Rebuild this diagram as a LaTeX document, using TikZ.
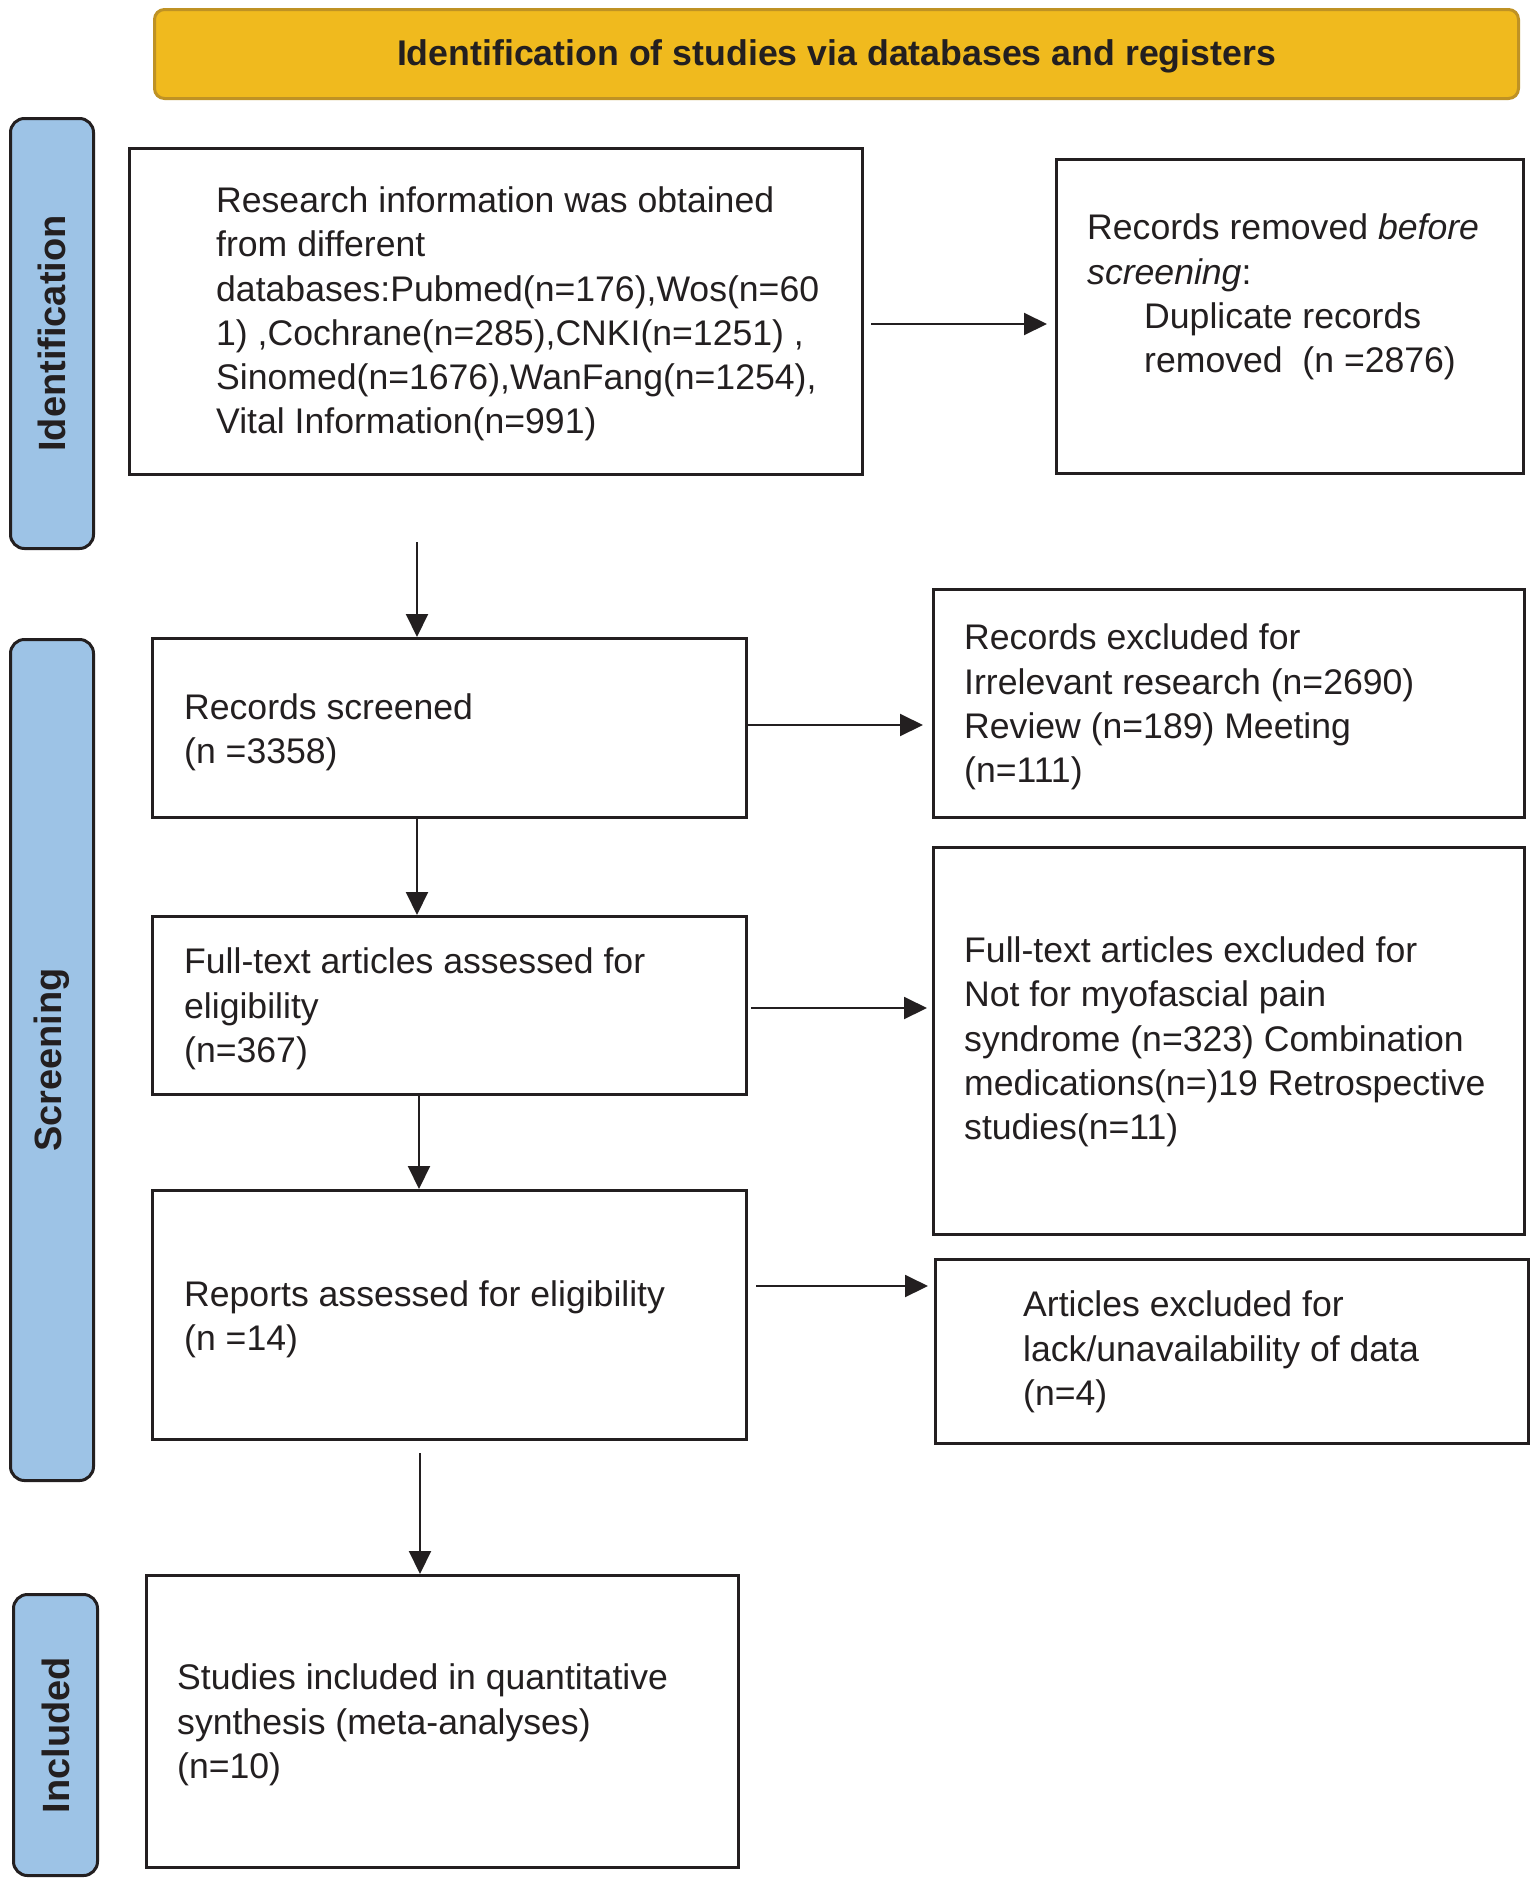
\documentclass[tikz,border=0pt]{standalone}
\usepackage{fontspec}
\setmainfont{Liberation Sans}
\usetikzlibrary{arrows.meta,calc}
\definecolor{bannerfill}{HTML}{F0BA1E}
\definecolor{bannerline}{HTML}{BF9224}
\definecolor{phasefill}{HTML}{9DC3E6}
\definecolor{ink}{HTML}{231F20}
\begin{document}
\begin{tikzpicture}[x=1pt,y=-1pt,
  box/.style={draw=ink, line width=3pt, fill=white, inner sep=0pt, anchor=north west},
  txt/.style={inner sep=0pt, align=left, anchor=west, text=ink, font=\fontsize{35.6}{44.3}\selectfont},
  phasebox/.style={draw=ink, line width=3pt, fill=phasefill, rounded corners=14pt, inner sep=0pt, anchor=north west},
  phasetxt/.style={rotate=90, inner sep=0pt, text=ink, font=\fontsize{38}{44}\selectfont\bfseries},
  arr/.style={draw=ink, line width=2pt, -{Triangle[length=23pt,width=22pt]}},
]
\useasboundingbox[fill=white] (0,0) rectangle (1535,1882);

% banner
\node[draw=bannerline, line width=3pt, fill=bannerfill, rounded corners=10pt, inner sep=0pt,
      anchor=north west, minimum width=1364pt, minimum height=89pt] (banner) at (153,8) {};
\node[inner sep=0pt, text=ink, font=\fontsize{35.7}{44}\selectfont\bfseries] (bannertxt) at ([yshift=-2.5pt]banner.center)
  {Identification of studies via databases and registers};

% phase labels
\node[phasebox, minimum width=83pt, minimum height=430pt] (pid) at (9,117) {};
\node[phasetxt] (pidt) at (pid.center) {Identification};
\node[phasebox, minimum width=83pt, minimum height=841pt] (psc) at (9,638) {};
\node[phasetxt] (psct) at (psc.center) {Screening};
\node[phasebox, minimum width=84pt, minimum height=281pt] (pin) at (12,1593) {};
\node[phasetxt] (pint) at (pin.center) {Included};

% boxes
\node[box, minimum width=733pt, minimum height=326pt] (res) at (128,147) {};
\node[txt] (rest) at (216,314) {Research information was obtained\\from different\\databases:Pubmed(n=176),Wos(n=60\\1) ,Cochrane(n=285),CNKI(n=1251) ,\\Sinomed(n=1676),WanFang(n=1254),\\Vital Information(n=991)};

\node[box, minimum width=467pt, minimum height=314pt] (rem) at (1055,158) {};
\node[txt] (remt) at (1087,297) {Records removed \textit{before}\\\textit{screening}:\\\hspace*{57pt}Duplicate records\\\hspace*{57pt}removed\ \ (n =2876)};

\node[box, minimum width=594pt, minimum height=179pt] (scr) at (151,637) {};
\node[txt] (scrt) at (184,732) {Records screened\\(n =3358)};

\node[box, minimum width=591pt, minimum height=228pt] (ex1) at (932,588) {};
\node[txt] (ex1t) at (964,707) {Records excluded for\\Irrelevant research (n=2690)\\Review (n=189) Meeting\\(n=111)};

\node[box, minimum width=594pt, minimum height=178pt] (ft) at (151,915) {};
\node[txt] (ftt) at (184,1009) {Full-text articles assessed for\\eligibility\\(n=367)};

\node[box, minimum width=591pt, minimum height=387pt] (ex2) at (932,846) {};
\node[txt] (ex2t) at (964,1042) {Full-text articles excluded for\\Not for myofascial pain\\syndrome (n=323) Combination\\medications(n=)19 Retrospective\\studies(n=11)};

\node[box, minimum width=594pt, minimum height=249pt] (rep) at (151,1189) {};
\node[txt] (rept) at (184,1319) {Reports assessed for eligibility\\(n =14)};

\node[box, minimum width=593pt, minimum height=184pt] (ex3) at (934,1258) {};
\node[txt] (ex3t) at (1023,1352) {Articles excluded for\\lack/unavailability of data\\(n=4)};

\node[box, minimum width=592pt, minimum height=292pt] (inc) at (145,1574) {};
\node[txt] (inct) at (177,1725) {Studies included in quantitative\\synthesis (meta-analyses)\\(n=10)};

% connector coordinates
\coordinate (a1s) at (417,542);
\coordinate (a3x) at (419,0);
\coordinate (a4s) at (420,1453);
\coordinate (h1s) at (871,324);
\coordinate (h2) at (0,725);
\coordinate (h3) at (0,1008);
\coordinate (h4) at (0,1286);

% vertical arrows
\draw[arr] (a1s) -- (a1s |- scr.north);
\draw[arr] (scr.south -| a1s) -- (ft.north -| a1s);
\draw[arr] (ft.south -| a3x) -- (rep.north -| a3x);
\draw[arr] (a4s) -- (a4s |- inc.north);

% horizontal arrows
\draw[arr, shorten >=8pt] (h1s) -- (h1s -| rem.west);
\draw[arr, shorten >=9pt] (scr.east |- h2) -- (ex1.west |- h2);
\draw[arr, shorten <=3pt, shorten >=5pt] (ft.east |- h3) -- (ex2.west |- h3);
\draw[arr, shorten <=8pt, shorten >=6pt] (rep.east |- h4) -- (ex3.west |- h4);
\end{tikzpicture}
\end{document}
